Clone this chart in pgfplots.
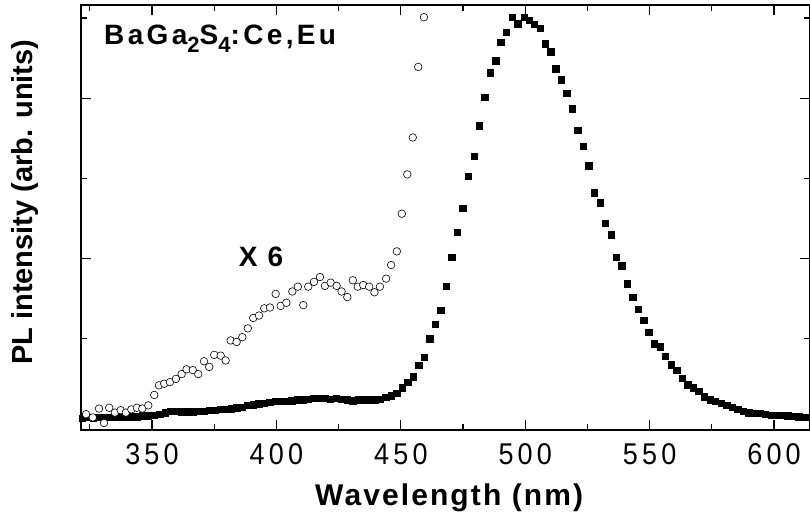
\documentclass[border=0pt]{standalone}
\usepackage{fontspec}
\setmainfont{Liberation Sans}
\newfontfamily\tickfont[LetterSpace=14,FakeStretch=0.9]{Liberation Sans}
\newfontfamily\labfont[LetterSpace=7]{Liberation Sans}
\newfontfamily\ttlfont[LetterSpace=8]{Liberation Sans}
\newfontfamily\titlefont[LetterSpace=12]{Liberation Sans}
\usepackage{pgfplots}
\pgfplotsset{compat=1.18}
\begin{document}
\begin{tikzpicture}[x=1bp,y=1bp]
\begin{axis}[
  at={(81bp,89bp)}, anchor=south west,
  scale only axis, width=729bp, height=425bp,
  xmin=321.46, xmax=614.46, ymin=-0.137, ymax=5.162,
  xtick={350,400,450,500,550,600},
  minor xtick={325,375,425,475,525,575},
  ytick={0,2,4}, minor ytick={1,3,5}, yticklabels={},
  tick align=inside,
  major tick length=10bp, minor tick length=6bp,
  every tick/.style={black, line width=1.2bp},
  axis line style={line width=1.6bp},
  /pgf/number format/assume math mode=true,
  xticklabel style={font=\tickfont\fontsize{30bp}{30bp}\selectfont, anchor=base, yshift=-35bp},
  xlabel={Wavelength (nm)},
  xlabel style={font=\labfont\bfseries\fontsize{30bp}{30bp}\selectfont, at={(rel axis cs:0.505,-0.178)}, anchor=base},
  ylabel={PL intensity (arb. units)},
  ylabel style={font=\bfseries\fontsize{29bp}{29bp}\selectfont, at={(rel axis cs:-0.0768,0.536)}, anchor=center},
]
\addplot[only marks, mark=square*, mark size=3.2bp, mark options={fill=black, draw=black, line width=0.3bp}] table {
x y
322.0 0.01
324.2 0.02
326.4 0.01
328.6 0.02
330.8 0.02
333.0 0.02
335.2 0.02
337.4 0.03
339.7 0.03
341.9 0.03
344.1 0.03
346.3 0.04
348.5 0.04
350.8 0.05
353.0 0.06
355.2 0.08
357.4 0.10
359.6 0.10
361.8 0.09
364.1 0.09
366.3 0.09
368.5 0.10
370.7 0.10
372.9 0.11
375.1 0.11
377.4 0.12
379.6 0.12
381.8 0.13
384.0 0.14
386.2 0.15
388.4 0.17
390.7 0.18
392.9 0.19
395.1 0.20
397.3 0.21
399.5 0.22
401.7 0.22
404.0 0.22
406.2 0.23
408.4 0.24
410.6 0.24
412.8 0.25
415.0 0.26
417.3 0.26
419.5 0.26
421.7 0.25
423.9 0.26
426.1 0.25
428.4 0.24
430.6 0.23
432.8 0.24
435.0 0.24
437.2 0.24
439.4 0.24
441.7 0.25
443.9 0.27
446.1 0.29
448.4 0.32
450.6 0.39
452.8 0.46
454.9 0.53
457.2 0.67
459.3 0.77
461.6 1.00
463.7 1.18
466.0 1.36
468.3 1.66
470.5 2.02
472.7 2.33
474.9 2.63
477.1 3.03
479.4 3.28
481.4 3.66
483.7 4.01
485.9 4.32
488.1 4.47
490.2 4.70
492.4 4.82
494.8 5.01
497.0 4.93
499.5 5.01
501.6 4.97
503.7 4.92
505.9 4.87
508.0 4.68
510.2 4.58
512.3 4.37
514.5 4.23
516.7 4.06
518.9 3.87
521.1 3.60
523.3 3.40
525.5 3.16
527.8 2.82
530.1 2.70
532.2 2.44
534.5 2.30
536.5 2.02
538.8 1.91
541.0 1.69
543.2 1.52
545.3 1.37
547.6 1.23
549.6 1.08
551.7 0.94
554.2 0.90
556.3 0.78
558.6 0.68
560.9 0.61
563.0 0.51
565.3 0.43
567.6 0.39
569.7 0.35
572.0 0.28
574.3 0.24
576.4 0.22
578.7 0.20
581.0 0.17
583.1 0.15
585.4 0.12
587.7 0.10
589.8 0.08
592.1 0.075
594.4 0.07
596.5 0.06
598.8 0.05
601.1 0.05
603.2 0.045
605.5 0.04
607.7 0.035
609.9 0.03
612.1 0.025
613.6 0.02
};
\addplot[only marks, mark=*, mark size=3.8bp, mark options={fill=white, draw=black, line width=0.6bp}] table {
x y
323.5 0.06
326.2 0.02
328.7 0.13
330.7 -0.05
332.8 0.14
335.1 0.08
337.4 0.11
339.5 0.08
341.7 0.12
343.9 0.14
346.1 0.13
348.5 0.17
350.9 0.30
352.8 0.42
354.9 0.44
357.2 0.46
359.6 0.50
361.9 0.56
363.9 0.62
366.4 0.61
368.6 0.56
370.9 0.72
373.0 0.65
375.0 0.80
377.6 0.79
379.6 0.73
381.6 0.98
384.0 0.96
386.3 1.02
388.5 1.13
390.7 1.26
393.0 1.29
395.1 1.38
397.4 1.39
399.7 1.56
401.7 1.41
404.0 1.45
406.4 1.59
408.6 1.65
410.8 1.42
412.8 1.65
415.1 1.71
417.5 1.77
419.5 1.66
421.8 1.70
424.2 1.66
426.2 1.59
428.5 1.52
430.7 1.73
432.7 1.65
434.9 1.67
437.3 1.65
439.4 1.58
441.6 1.65
444.1 1.75
446.1 1.92
448.4 2.09
450.4 2.56
452.6 3.05
454.8 3.51
457.0 4.39
459.3 5.01
};
\node[font=\ttlfont\bfseries\fontsize{28bp}{28bp}\selectfont, anchor=center, inner sep=0pt] at (rel axis cs:0.247,0.408) {X 6};
\node[font=\titlefont\bfseries\fontsize{28bp}{28bp}\selectfont, anchor=base west, inner sep=0pt] at (rel axis cs:0.0316,0.906) {BaGa\raisebox{-8bp}{\fontsize{22bp}{22bp}\selectfont 2}S\raisebox{-8bp}{\fontsize{22bp}{22bp}\selectfont 4}:Ce,Eu};
\end{axis}
\pgfresetboundingbox
\path[use as bounding box] (0,0) rectangle (810,519);
\end{tikzpicture}
\end{document}
